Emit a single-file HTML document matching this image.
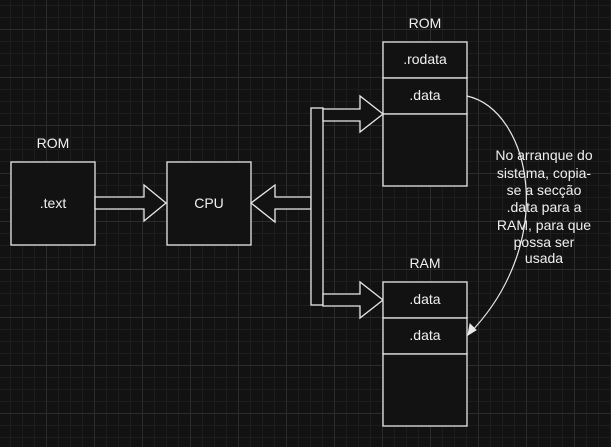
<!DOCTYPE html>
<html><head><meta charset="utf-8"><style>
html,body{margin:0;padding:0;background:#121212;}
svg{display:block;}
text{font-family:"Liberation Sans",sans-serif;font-size:14px;fill:#f0f0f0;text-anchor:middle;}
</style></head><body>
<svg width="611" height="447" viewBox="0 0 611 447" xmlns="http://www.w3.org/2000/svg">
<defs>
<pattern id="mi" x="-2" y="5" width="12" height="12" patternUnits="userSpaceOnUse">
<path d="M0 0.5H12M0.5 0V12" stroke="#1d1d1d" stroke-width="1" fill="none"/>
</pattern>
<pattern id="ma" x="-2" y="-19" width="48" height="48" patternUnits="userSpaceOnUse">
<path d="M0 0.5H48M0.5 0V48" stroke="#2c2c2c" stroke-width="1" fill="none"/>
</pattern>
</defs>
<rect width="611" height="447" fill="#121212"/>
<rect width="611" height="447" fill="url(#mi)"/>
<rect width="611" height="447" fill="url(#ma)"/>
<g fill="#121212" stroke="#e8e8e8" stroke-width="1.3">
<rect x="11" y="162" width="84" height="83"/>
<rect x="167" y="162" width="84" height="83"/>
<path d="M95 197H144V185L166 203L144 221V209H95Z"/>
<path d="M251 203L275 185V197H311V209H275V222Z"/>
<rect x="311" y="108" width="12" height="197"/>
<path d="M323 109H360V96L383 114L360 132V121H323Z"/>
<path d="M323 294H360V282L383 300L360 318V306H323Z"/>
<rect x="383" y="42" width="84" height="36"/>
<rect x="383" y="78" width="84" height="36"/>
<rect x="383" y="114" width="84" height="72"/>
<rect x="383" y="282" width="84" height="36"/>
<rect x="383" y="318" width="84" height="36"/>
<rect x="383" y="354" width="84" height="72"/>
</g>
<path d="M467 96C530 110 560 240 469 334" fill="none" stroke="#e8e8e8" stroke-width="1.2"/>
<path d="M468 335L470 324L476 330Z" fill="#e8e8e8" stroke="#e8e8e8"/>
<text x="53" y="148">ROM</text>
<text x="53" y="208">.text</text>
<text x="209" y="208">CPU</text>
<text x="425" y="28">ROM</text>
<text x="425" y="64">.rodata</text>
<text x="425" y="100">.data</text>
<text x="425" y="268">RAM</text>
<text x="425" y="304">.data</text>
<text x="425" y="340">.data</text>
<g>
<text x="544" y="160">No arranque do</text>
<text x="544" y="178">sistema, copia-</text>
<text x="544" y="195">se a secção</text>
<text x="544" y="212">.data para a</text>
<text x="544" y="230">RAM, para que</text>
<text x="544" y="247">possa ser</text>
<text x="544" y="263">usada</text>
</g>
</svg>
</body></html>
